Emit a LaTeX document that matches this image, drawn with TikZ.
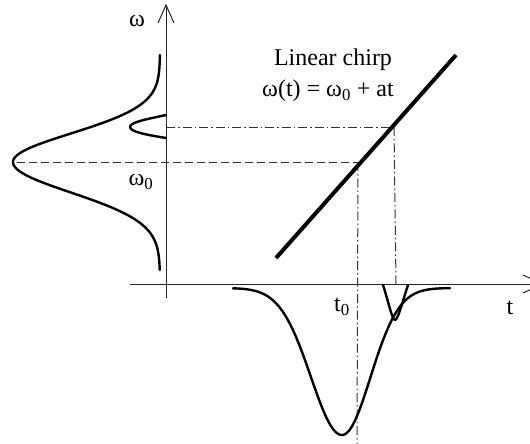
\documentclass[tikz,border=0pt]{standalone}
\usepackage{fontspec}
\setmainfont{Liberation Serif}
\begin{document}
\begin{tikzpicture}[x=1pt,y=-1pt,
  axisline/.style={line width=1pt, black!85},
  curve/.style={line width=2.4pt, line join=round, line cap=round},
  chirpline/.style={line width=4pt},
  dashline/.style={line width=1pt, black!80, dash pattern=on 8pt off 4pt},
  dotdash/.style={line width=1pt, black!80, dash pattern=on 9pt off 3pt on 1.5pt off 3pt},
  lbl/.style={font=\fontsize{24}{26}\selectfont, inner sep=0pt}]
\useasboundingbox (0,0) rectangle (530,444);
\clip (0,0) rectangle (530,444);
% coordinates
\coordinate (wtop) at (166,5);
\coordinate (wbot) at (166,298);
\coordinate (tl) at (130,284);
\coordinate (tr) at (543,284);
\coordinate (c1) at (276,258);
\coordinate (c2) at (456,55);
\coordinate (pk) at (17,162);
\coordinate (p0) at (358,162);
\coordinate (t0b) at (357,444);
\coordinate (ax1) at (166,127);
\coordinate (p1) at (394,127);
\coordinate (t1b) at (396,284);
% axes
\draw[axisline] (wbot) -- (wtop);
\draw[axisline] (158,23) -- (wtop) -- (174,23);
\draw[axisline] (tl) -- (tr);
\draw[axisline] (523,275) -- (tr) -- (523,293);
% guide lines
\draw[dashline] (pk) -- (p0);
\draw[dotdash] (p0) -- (t0b);
\draw[dotdash] (ax1) -- (p1);
\draw[dotdash] (p1) -- (t1b);
% chirp line
\draw[chirpline] (c1) -- (c2);
% spectrum (left)
\draw[curve] plot[domain=55:162, samples=80, smooth] ({160-147*exp(-((\x-162)^2)/(2*28.5^2))}, \x)
  -- plot[domain=162:270, samples=80, smooth] ({160-147*exp(-((\x-162)^2)/(2*30.5^2))}, \x);
\draw[curve] (166,115) .. controls (148,119) and (130,122) .. (130,127)
  .. controls (130,132) and (148,135) .. (166,138);
% time signal (bottom)
\draw[curve] plot[domain=233:342, samples=80, smooth] (\x, {288+147*exp(-((\x-342)^2)/(2*31^2))})
  -- plot[domain=342:450, samples=80, smooth] (\x, {288+147*exp(-((\x-342)^2)/(2*28.5^2))});
\draw[curve] (383,285) .. controls (388,300) and (392,320) .. (395,320)
  .. controls (398,320) and (403,300) .. (408,285);
% labels
\node[lbl] (lw) at (137,21) {ω};
\node[lbl] (lw0) at (141,182) {ω\textsubscript{0}};
\node[lbl] (title) at (333,60) {Linear chirp};
\node[lbl] (eq) at (328,91) {ω(t) = ω\textsubscript{0} + at};
\node[lbl] (lt0) at (342,307) {t\textsubscript{0}};
\node[lbl] (lt) at (510,308) {t};
\end{tikzpicture}
\end{document}
